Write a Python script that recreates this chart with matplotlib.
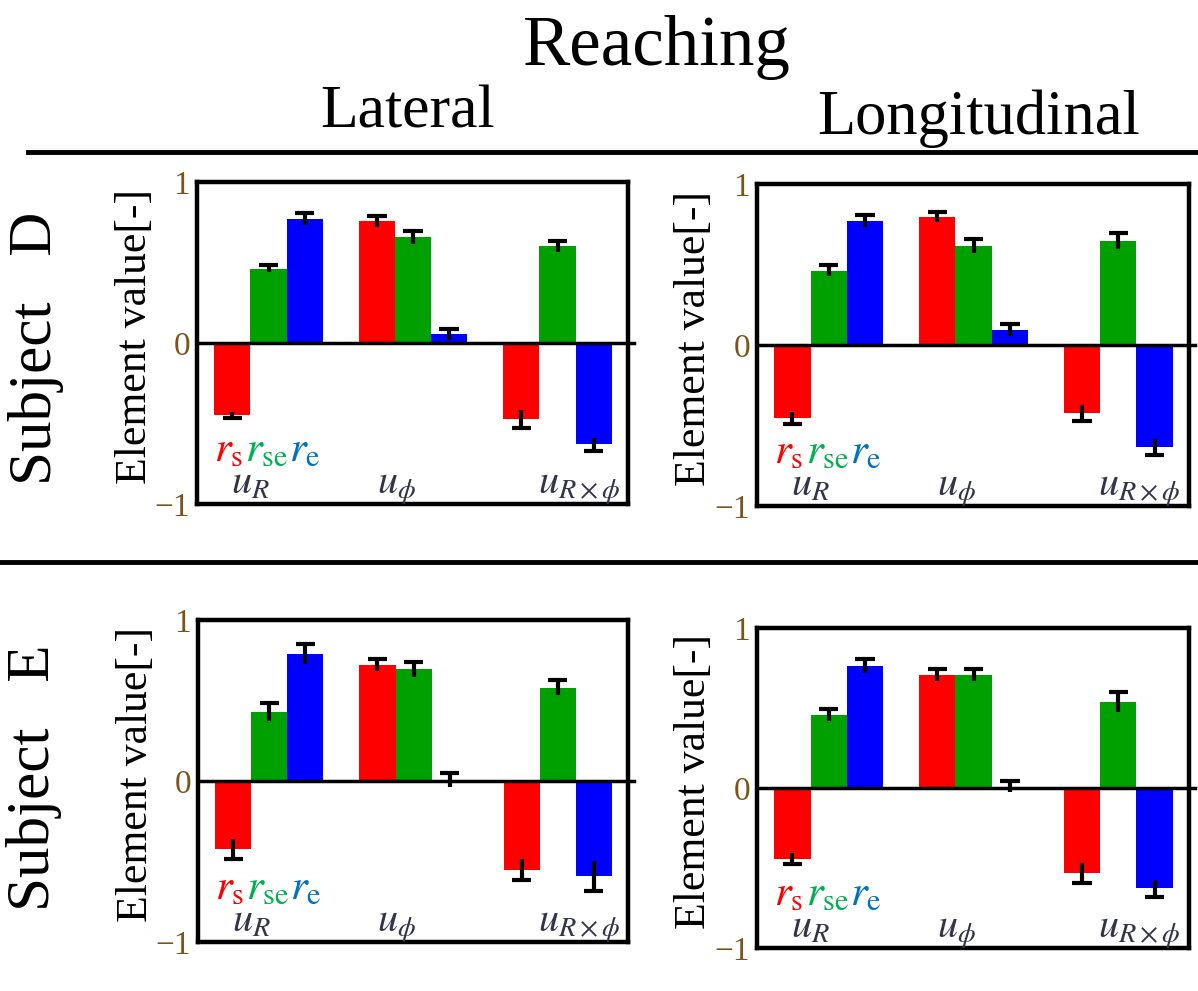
import matplotlib
matplotlib.use('Agg')
import matplotlib.pyplot as plt
import numpy as np

plt.rcParams['font.family'] = ['Liberation Serif', 'DejaVu Serif']
plt.rcParams['mathtext.fontset'] = 'stix'

# ============================================================
# data: element values (r_s, r_se, r_e for u_R, u_phi, u_Rxphi)
# ============================================================
groups = [r'$u_R$', r'$u_\phi$', r'$u_{R\times\phi}$']
series_colors = ['#ff0000', '#00a000', '#0000ff']

d_lat_val = [-0.448, 0.462, 0.770, 0.756, 0.656, 0.054, -0.475, 0.600, -0.630]
d_lat_err = [0.020, 0.022, 0.035, 0.035, 0.040, 0.033, 0.056, 0.035, 0.040]

d_lon_val = [-0.452, 0.462, 0.770, 0.798, 0.615, 0.094, -0.423, 0.644, -0.631]
d_lon_err = [0.037, 0.033, 0.037, 0.031, 0.042, 0.035, 0.050, 0.050, 0.050]

e_lat_val = [-0.421, 0.429, 0.790, 0.720, 0.695, 0.008, -0.550, 0.580, -0.590]
e_lat_err = [0.062, 0.058, 0.064, 0.035, 0.046, 0.044, 0.066, 0.048, 0.093]

e_lon_val = [-0.442, 0.457, 0.761, 0.706, 0.706, 0.008, -0.529, 0.539, -0.626]
e_lon_err = [0.035, 0.037, 0.043, 0.037, 0.037, 0.033, 0.062, 0.062, 0.053]

W, H = 1198, 991
fig = plt.figure(figsize=(W / 100, H / 100), dpi=100)


def px_axes(left, top, right, bottom):
    return fig.add_axes([left / W, 1 - bottom / H, (right - left) / W, (bottom - top) / H])


def draw_panel(ax, vals, errs):
    vals = np.array(vals)
    errs = np.array(errs)
    x = np.array([4 * g + k for g in range(len(groups)) for k in range(3)])
    cols = [series_colors[k] for g in range(len(groups)) for k in range(3)]
    ax.bar(x, vals, width=1.0, color=cols, linewidth=0, zorder=2)
    # error bars: full stem, cap only on the outer end
    ax.vlines(x, vals - errs, vals + errs, color='black', linewidth=3, zorder=3)
    tips = vals + np.sign(vals) * errs
    ax.hlines(tips, x - 0.27, x + 0.27, color='black', linewidth=3, zorder=3)
    ax.axhline(0, xmin=0, xmax=1.015, color='black', linewidth=2.5, zorder=4, clip_on=False)

    ax.set_xlim(-0.98, 10.95)
    ax.set_ylim(-1, 1)
    ax.set_xticks([])
    ax.set_yticks([-1, 0, 1])
    ax.set_yticklabels(['\u22121', '0', '1'], fontsize=24, color='#7a5418')
    ax.tick_params(axis='y', length=0, pad=5)
    for s in ax.spines.values():
        s.set_linewidth(3.2)

    # group labels inside the frame
    label_x = [-0.05, 4.0, 8.45]
    for lx, lab in zip(label_x, groups):
        ax.text(lx, -0.935, lab, fontsize=29, color='#33334a', ha='left', va='baseline')

    # colour key
    ax.text(-0.50, -0.735, r'$r_{\mathrm{s}}$', fontsize=31, color='#ff0000', va='baseline')
    ax.text(0.36, -0.735, r'$r_{\mathrm{se}}$', fontsize=31, color='#00b050', va='baseline')
    ax.text(1.58, -0.735, r'$r_{\mathrm{e}}$', fontsize=31, color='#0070c0', va='baseline')

    ax.text(-0.145, 0.52, 'Element value[-]', transform=ax.transAxes, rotation=90,
            fontsize=31.5, ha='center', va='center')


ax1 = px_axes(197, 182, 628, 504)
draw_panel(ax1, d_lat_val, d_lat_err)
ax2 = px_axes(757, 184, 1189, 506)
draw_panel(ax2, d_lon_val, d_lon_err)
ax3 = px_axes(198, 620, 628, 942)
draw_panel(ax3, e_lat_val, e_lat_err)
ax4 = px_axes(757, 628, 1189, 948)
draw_panel(ax4, e_lon_val, e_lon_err)

# headers
fig.text(657 / W, 1 - 65 / H, 'Reaching', fontsize=51, ha='center', va='baseline')
fig.text(408 / W, 1 - 127 / H, 'Lateral', fontsize=44.5, ha='center', va='baseline')
fig.text(979 / W, 1 - 134 / H, 'Longitudinal', fontsize=45, ha='center', va='baseline')

fig.text(36 / W, 1 - 348 / H, 'Subject   D', fontsize=44, rotation=90, ha='center', va='center')
fig.text(34 / W, 1 - 778 / H, 'Subject   E', fontsize=44, rotation=90, ha='center', va='center')

# separator lines
fig.add_artist(plt.Line2D([28 / W, 1.0], [1 - 152 / H, 1 - 152 / H], color='black', linewidth=3.5))
fig.add_artist(plt.Line2D([0.0, 1.0], [1 - 562 / H, 1 - 562 / H], color='black', linewidth=3.5))

fig.savefig('out.png', dpi=100)
plt.close()
